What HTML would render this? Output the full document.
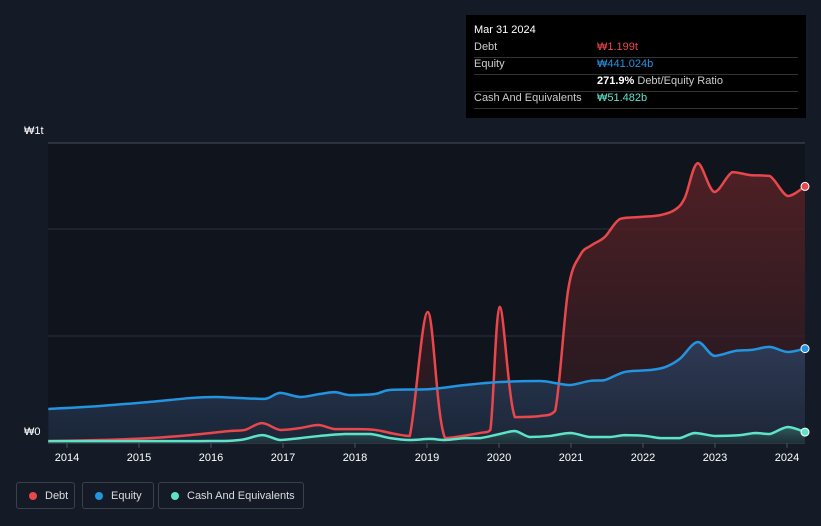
<!DOCTYPE html>
<html><head><meta charset="utf-8"><style>
body{margin:0;background:#151b26;font-family:"Liberation Sans",sans-serif;width:821px;height:526px;overflow:hidden;position:relative}
.tt{position:absolute;left:466px;top:15px;width:340px;height:103px;background:#000;color:#fff;font-size:11px}
.tt .r{position:absolute;left:8px;width:324px;border-bottom:1px solid #333;height:16px}
.tt span{position:absolute;left:123px}
.leg{position:absolute;top:482px;height:27px;border:1px solid #3a404c;border-radius:3px;color:#ddd;font-size:11px;line-height:27px;box-sizing:border-box;padding-left:28px}
.leg i{position:absolute;left:12px;top:9px;width:8px;height:8px;border-radius:50%}
</style></head><body>
<svg width="821" height="526" style="position:absolute;left:0;top:0">
<defs>
<linearGradient id="gd" x1="0" y1="0" x2="0" y2="1"><stop offset="0" stop-color="#5a2226" stop-opacity=".85"/><stop offset="1" stop-color="#2a1a22" stop-opacity=".7"/></linearGradient>
<linearGradient id="ge" x1="0" y1="0" x2="0" y2="1"><stop offset="0" stop-color="#2e3f5e" stop-opacity=".85"/><stop offset="1" stop-color="#1c2a3e" stop-opacity=".8"/></linearGradient>
<linearGradient id="gc" x1="0" y1="0" x2="0" y2="1"><stop offset="0" stop-color="#3a7a70" stop-opacity=".6"/><stop offset="1" stop-color="#1e3a3a" stop-opacity=".5"/></linearGradient>
</defs>
<rect x="48" y="143" width="757" height="300" fill="#10141c"/>
<g id="grid"></g><g id="areas"></g><g id="lines"></g><g id="xt"></g>
<text x="24" y="134" fill="#fff" font-size="11">₩1t</text>
<text x="24" y="435" fill="#fff" font-size="11">₩0</text>
</svg>
<div class="tt">
<div style="position:absolute;left:8px;top:9px;font-size:11px">Mar 31 2024</div>
<div class="r" style="top:26px;color:#ccc">Debt<span style="color:#e8474c">₩1.199t</span></div>
<div class="r" style="top:43px;color:#ccc">Equity<span style="color:#2394e0">₩441.024b</span></div>
<div class="r" style="top:60px;color:#ccc"><span style="color:#fff"><b>271.9%</b> <span style="position:static;color:#ccc">Debt/Equity Ratio</span></span></div>
<div class="r" style="top:77px;color:#ccc">Cash And Equivalents<span style="color:#5fe3c8">₩51.482b</span></div>
</div>
<div class="leg" style="left:16px;width:59px"><i style="background:#e8474c"></i>Debt</div>
<div class="leg" style="left:82px;width:72px"><i style="background:#2394e0"></i>Equity</div>
<div class="leg" style="left:158px;width:146px"><i style="background:#5fe3c8"></i>Cash And Equivalents</div>
<script>
const years=[2014,2015,2016,2017,2018,2019,2020,2021,2022,2023,2024];
const debtT=[2013.74,2014.46,2015.15,2015.71,2016.26,2016.47,2016.71,2016.96,2017.24,2017.49,2017.72,2018.0,2018.28,2018.56,2018.76,2019.01,2019.25,2019.74,2019.88,2020.01,2020.22,2020.57,2020.78,2020.96,2021.13,2021.29,2021.47,2021.68,2021.96,2022.24,2022.44,2022.58,2022.76,2022.99,2023.24,2023.49,2023.76,2024.01,2024.25];
const debtV=[9,14,23,37,56,61,93,61,70,84,65,65,61,42,33,612,23,47,61,636,121,126,150,715,879,925,963,1047,1056,1065,1089,1145,1308,1173,1266,1252,1248,1154,1199];
const eqT=[2013.74,2014.46,2015.15,2015.71,2016.06,2016.4,2016.75,2016.96,2017.24,2017.51,2017.72,2017.93,2018.28,2018.49,2019.04,2019.53,2020.01,2020.57,2020.78,2020.99,2021.26,2021.47,2021.75,2022.1,2022.31,2022.51,2022.76,2022.99,2023.28,2023.51,2023.76,2024.01,2024.25];
const eqV=[159,173,192,210,215,210,206,234,215,229,238,224,229,248,252,271,285,290,280,271,290,294,332,341,355,393,472,407,430,435,449,425,441];
const cashT=[2013.74,2015.85,2016.4,2016.71,2016.96,2017.24,2017.51,2017.86,2018.21,2018.49,2018.76,2019.04,2019.25,2019.53,2019.74,2020.01,2020.22,2020.43,2020.71,2020.99,2021.26,2021.54,2021.75,2022.03,2022.24,2022.51,2022.72,2023.0,2023.35,2023.56,2023.76,2024.01,2024.25];
const cashV=[9,9,14,37,14,23,33,42,42,23,14,19,14,23,23,42,56,28,33,47,28,28,37,33,23,23,47,33,37,47,42,75,51];
const X=t=>67+(t-2014)*72, Y=v=>443-v*0.214;
const NS='http://www.w3.org/2000/svg';
function el(tag,attrs,parent){const e=document.createElementNS(NS,tag);for(const k in attrs)e.setAttribute(k,attrs[k]);document.getElementById(parent).appendChild(e);return e;}
function cl(v,a,b){return Math.max(Math.min(a,b),Math.min(Math.max(a,b),v));}
function path(T,V){const p=T.map((t,i)=>[X(t),Y(V[i])]);let d='M'+p[0][0]+','+p[0][1];
for(let i=0;i<p.length-1;i++){const p0=p[i-1]||p[i],p1=p[i],p2=p[i+1],p3=p[i+2]||p2;
const c1y=cl(p1[1]+(p2[1]-p0[1])/6,p1[1],p2[1]),c2y=cl(p2[1]-(p3[1]-p1[1])/6,p1[1],p2[1]);
d+=' C'+(p1[0]+(p2[0]-p0[0])/6)+','+c1y+' '+(p2[0]-(p3[0]-p1[0])/6)+','+c2y+' '+p2[0]+','+p2[1];}
return [d,p];}
[0.5,1].forEach(v=>{const g=el('line',{x1:48,x2:805,y1:Y(v*1000),y2:Y(v*1000),stroke:'#2c313b'},'grid');

});
const topLine=el('line',{x1:48,x2:805,y1:143,y2:143,stroke:'#4a4f59'},'grid');


const ax=el('line',{x1:48,x2:805,y1:443,y2:443,stroke:'#4a4f59'},'grid');


const series=[['debt',debtT,debtV,'#e8474c','url(#gd)'],['equity',eqT,eqV,'#2394e0','url(#ge)'],['cash',cashT,cashV,'#5fe3c8','url(#gc)']];
series.forEach(s=>{const [d,p]=path(s[1],s[2]);
const a=el('path',{d:d+' L'+p[p.length-1][0]+',443 L'+p[0][0]+',443 Z',fill:s[4]},'areas');


const l=el('path',{d:d,fill:'none',stroke:s[3],'stroke-width':2.5},'lines');


const c=el('circle',{cx:p[p.length-1][0],cy:p[p.length-1][1],r:4,fill:s[3],stroke:'#fff','stroke-width':1},'lines');

});
years.forEach(y=>{const t=el('line',{x1:X(y),x2:X(y),y1:443,y2:448,stroke:'#4a4f59'},'xt');


const tx=el('text',{x:X(y),y:461,fill:'#fff','font-size':11,'text-anchor':'middle'},'xt');tx.textContent=y;

});
</script>
</body></html>
